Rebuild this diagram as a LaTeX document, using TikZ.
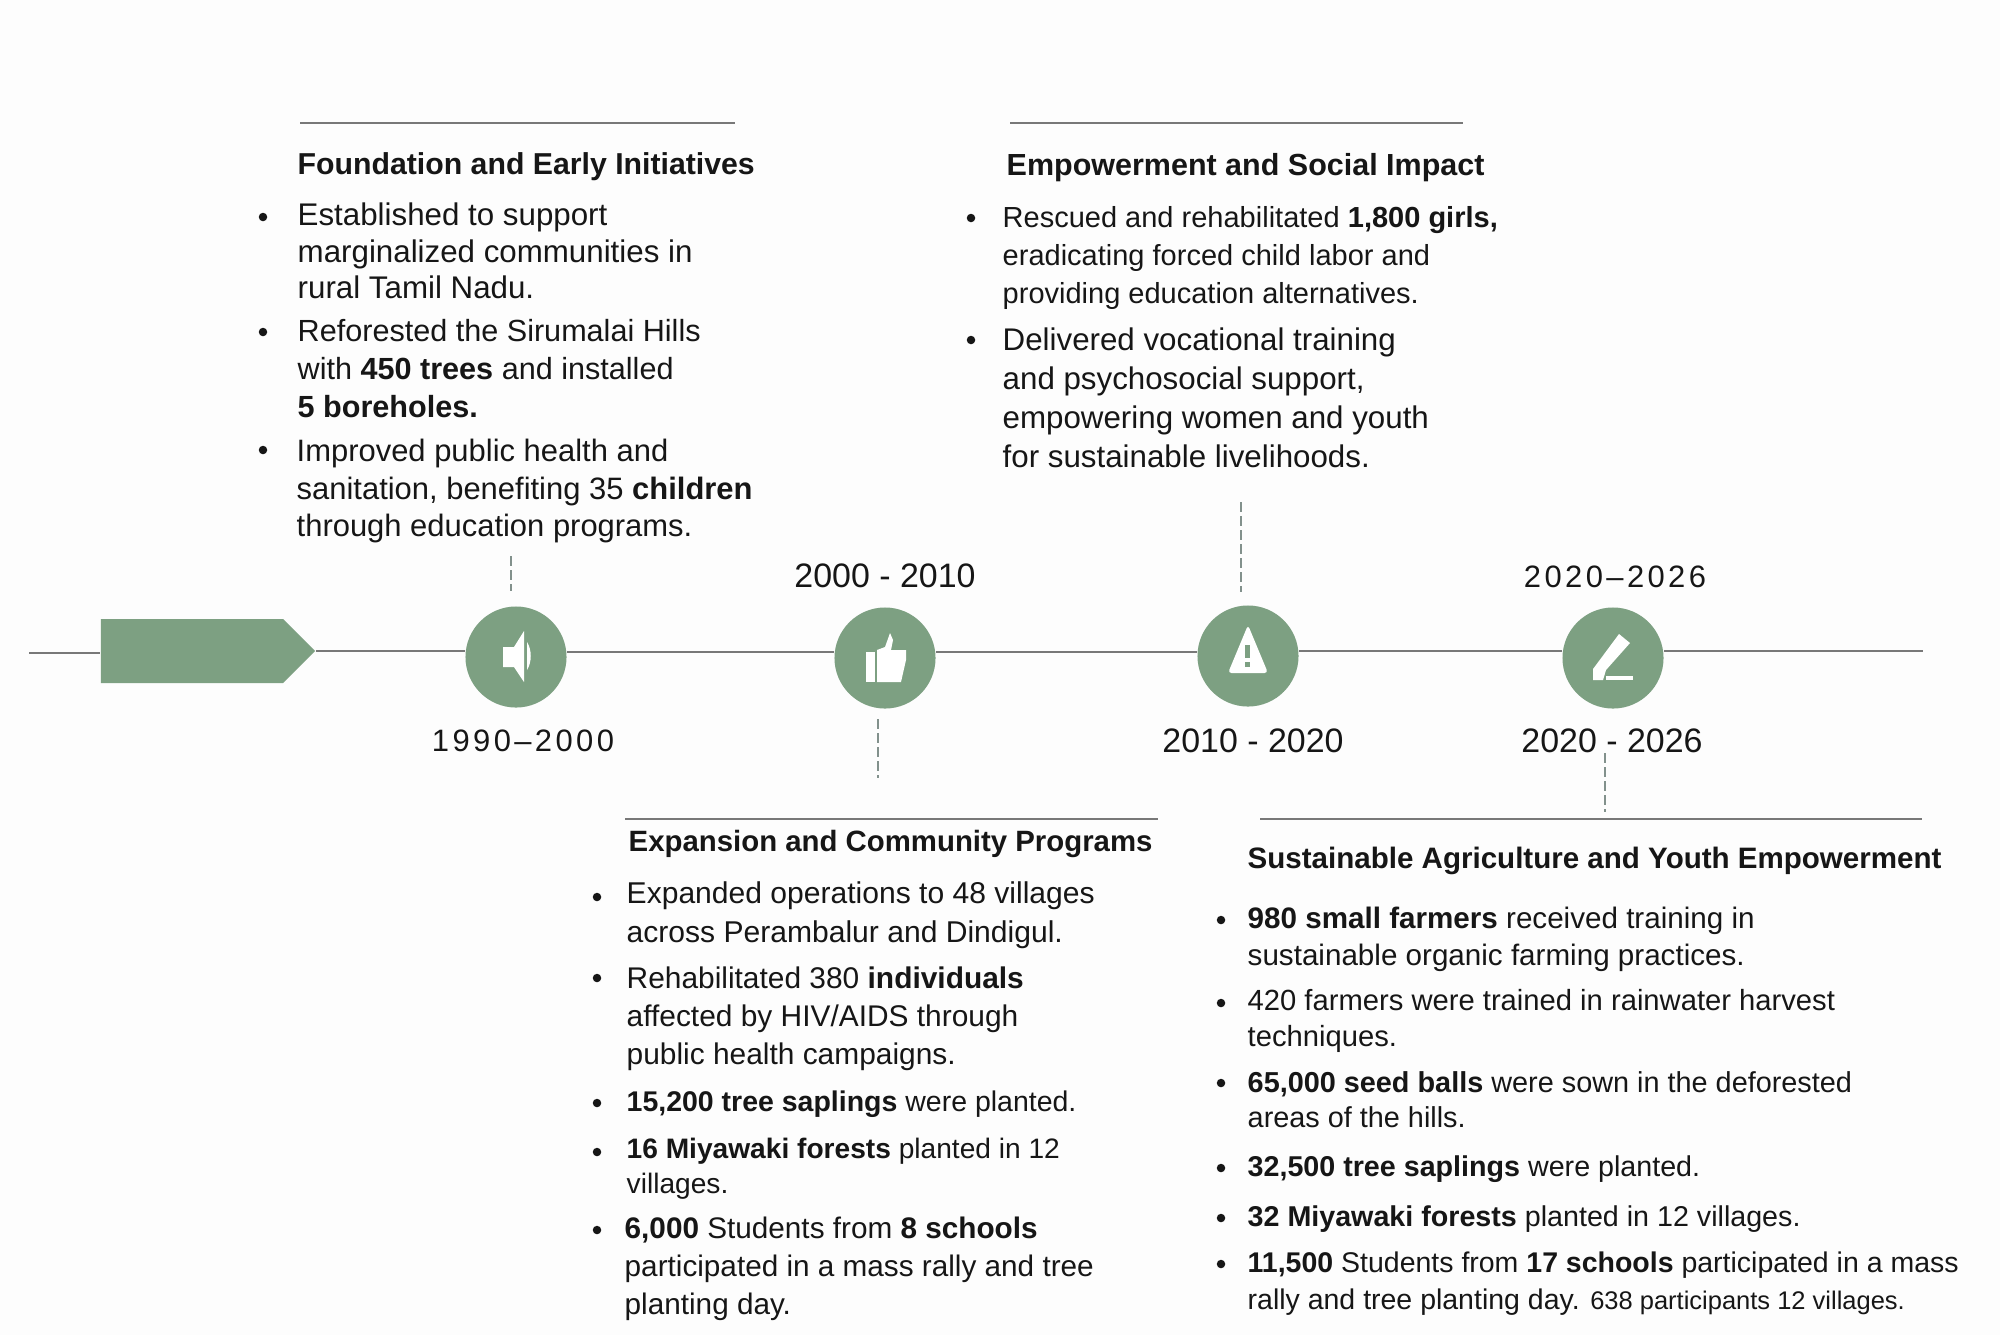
\documentclass[tikz,border=0pt]{standalone}
\usepackage{fontspec}
\setmainfont{Liberation Sans}
\newfontfamily\spacedfont[LetterSpace=11]{Liberation Sans}
\usetikzlibrary{positioning,shapes.symbols}
\definecolor{minegreen}{RGB}{125,160,130}
\definecolor{mineline}{RGB}{120,120,120}
\definecolor{minedash}{RGB}{130,145,140}
\definecolor{minetext}{RGB}{22,22,22}
\definecolor{minepage}{RGB}{253,253,253}
\begin{document}
\begin{tikzpicture}[x=0.01cm,y=-0.01cm,text=minetext,
            item/.style={anchor=west,align=left,inner sep=0pt,yshift=-0.02cm},
            sz/.style 2 args={font=\fontsize{#1}{#2}\selectfont},
            head/.style={anchor=west,inner sep=0pt,yshift=-0.03cm,
                         font=\fontsize{#1}{10.6}\selectfont\bfseries},
            year/.style={inner sep=0pt,font=\fontsize{9.65}{11}\selectfont},
            spaced/.style={inner sep=0pt,font=\fontsize{8.8}{11}\spacedfont},
            stopdot/.style={circle,fill=minegreen,minimum size=1.01cm,inner sep=0pt},
            bul/.style={circle,fill=minetext,minimum size=0.085cm,inner sep=0pt},
            rule/.style={draw=mineline,line width=0.7pt},
            link/.style={draw=minedash,line width=0.4pt,dash pattern=on 2.8pt off 1.2pt},
            ico/.style={fill=white,draw=none}]
            \fill[minepage] (0,0) rectangle (2000,1335);
            \useasboundingbox (0,0) rectangle (2000,1335);

            % timeline
            \coordinate (left) at (29,653);
            \coordinate (right) at (1923,651);
            \node[fill=minegreen,shape=signal,signal to=east,signal pointer angle=90,
                  minimum width=2.14cm,minimum height=0.64cm,inner sep=0pt]
                       (tag) at (192,651) {};
            \node[stopdot] (c1) at (516,657) {};
            \node[stopdot] (c2) at (885,658) {};
            \node[stopdot] (c3) at (1248,656) {};
            \node[stopdot] (c4) at (1613,658) {};
            \draw[rule] (left)--(tag.west|-left);
            \draw[rule] (tag.east)--(c1.west|-tag.east);
            \draw[rule] (c1.east|-0,652)--(c2.west|-0,652);
            \draw[rule] (c2.east|-0,652)--(c3.west|-0,652);
            \draw[rule] (c3.east|-0,651)--(c4.west|-0,651);
            \draw[rule] (c4.east|-right)--(right);

            % icons
            \fill[ico] (503,647) -- (514,647) -- (524,631) -- (524,682) -- (514,667) -- (503,667) -- cycle;
            \fill[ico] (527,642) .. controls (532,650) and (532,662) .. (527,670) -- cycle;
            \fill[ico] (866,652) rectangle (875,682);
            \fill[ico] (877,650) -- (885,647) -- (890,633) -- (893,640) -- (891,650) -- (906,650)
                       -- (906,660) -- (901,682) -- (877,682) -- cycle;
            \fill[ico,rounded corners=1pt] (1248,625) -- (1268,673) -- (1228,673) -- cycle;
            \fill[minegreen] (1245,645) rectangle (1250,658);
            \fill[minegreen] (1245,662) rectangle (1250,667);
            \fill[ico] (1619,634) -- (1630,643) -- (1606,670) -- (1603,680) -- (1593,680)
                       -- (1593,669) -- cycle;
            \fill[ico] (1606,676) rectangle (1633,680);

            % years
            \node[spaced] (y1) at (523,741) {1990–2000};
            \node[year] (y2) at (885,576) {2000 - 2010};
            \node[year] (y3) at (1253,741) {2010 - 2020};
            \node[spaced] (y4) at (1615,577) {2020–2026};
            \node[year] (y5) at (1612,741) {2020 - 2026};

            % rules
            \coordinate (r1a) at (300,123); \coordinate (r1b) at (735,123);
            \coordinate (r2a) at (1010,123); \coordinate (r2b) at (1463,123);
            \coordinate (r3a) at (625,819); \coordinate (r3b) at (1158,819);
            \coordinate (r4a) at (1260,819); \coordinate (r4b) at (1922,819);
            \draw[rule] (r1a)--(r1b);
            \draw[rule] (r2a)--(r2b);
            \draw[rule] (r3a)--(r3b);
            \draw[rule] (r4a)--(r4b);

            % dashed links
            \coordinate (d1a) at (511,556); \coordinate (d1b) at (511,591);
            \coordinate (d2a) at (878,719); \coordinate (d2b) at (878,778);
            \coordinate (d3a) at (1241,502); \coordinate (d3b) at (1241,592);
            \coordinate (d4a) at (1605,753); \coordinate (d4b) at (1605,812);
            \draw[link] (d1a)--(d1b);
            \draw[link] (d2a)--(d2b);
            \draw[link] (d3a)--(d3b);
            \draw[link] (d4a)--(d4b);

            % bullets
            \foreach \x/\y [count=\n] in {263/217,263/332,263/450,971/218,971/340,
                     597/897,597/978,597/1103,597/1152,597/1230,
                     1221/920,1221/1003,1221/1083,1221/1168,1221/1218,1221/1264}
                \node[bul] (dot\n) at (\x,\y) {};

            % first block
            \node[head=8.6] (h1) at (297,164) {Foundation and Early Initiatives};
            \node[item,sz={8.9}{10.4}] (a1) at (297,249) {Established to support\\marginalized communities in\\rural Tamil Nadu.};
            \node[item,sz={8.7}{10.8}] (a2) at (297,367) {Reforested the Sirumalai Hills\\with \textbf{450 trees} and installed\\\textbf{5 boreholes.}};
            \node[item,sz={8.8}{10.7}] (a3) at (296,489) {Improved public health and\\sanitation, benefiting 35 \textbf{children}\\through education programs.};

            % second block
            \node[head=8.67] (h2) at (1006,165) {Empowerment and Social Impact};
            \node[item,sz={8.25}{10.8}] (b1) at (1002,256) {Rescued and rehabilitated \textbf{1,800 girls,}\\eradicating forced child labor and\\providing education alternatives.};
            \node[item,sz={8.9}{11.1}] (b2) at (1002,396) {Delivered vocational training\\and psychosocial support,\\empowering women and youth\\for sustainable livelihoods.};

            % third block
            \node[head=8.35] (h3) at (628,841) {Expansion and Community Programs};
            \node[item,sz={8.55}{11.1}] (c1t) at (626,913) {Expanded operations to 48 villages\\across Perambalur and Dindigul.};
            \node[item,sz={8.5}{10.8}] (c2t) at (626,1017) {Rehabilitated 380 \textbf{individuals}\\affected by HIV/AIDS through\\public health campaigns.};
            \node[item,sz={8.1}{10.6}] (c3t) at (626,1102) {\textbf{15,200 tree saplings} were planted.};
            \node[item,sz={8.0}{10}] (c4t) at (626,1167) {\textbf{16 Miyawaki forests} planted in 12\\villages.};
            \node[item,sz={8.45}{10.8}] (c5t) at (624,1267) {\textbf{6,000} Students from \textbf{8 schools}\\participated in a mass rally and tree\\planting day.};

            % fourth block
            \node[head=8.4] (h4) at (1247,858) {Sustainable Agriculture and Youth Empowerment};
            \node[item,sz={8.42}{10.5}] (d1t) at (1247,937) {\textbf{980 small farmers} received training in\\sustainable organic farming practices.};
            \node[item,sz={8.3}{10.2}] (d2t) at (1247,1019) {420 farmers were trained in rainwater harvest\\techniques.};
            \node[item,sz={8.2}{10}] (d3t) at (1247,1098) {\textbf{65,000 seed balls} were sown in the deforested\\areas of the hills.};
            \node[item,sz={8.15}{10.6}] (d4t) at (1247,1167) {\textbf{32,500 tree saplings} were planted.};
            \node[item,sz={8.15}{10.6}] (d5t) at (1247,1217) {\textbf{32 Miyawaki forests} planted in 12 villages.};
            \node[item,sz={8.1}{10.5}] (d6t) at (1247,1282) {\textbf{11,500} Students from \textbf{17 schools} participated in a mass\\rally and tree planting day. {\fontsize{7.25}{10.5}\selectfont 638 participants 12 villages.}};
        \end{tikzpicture}
\end{document}
